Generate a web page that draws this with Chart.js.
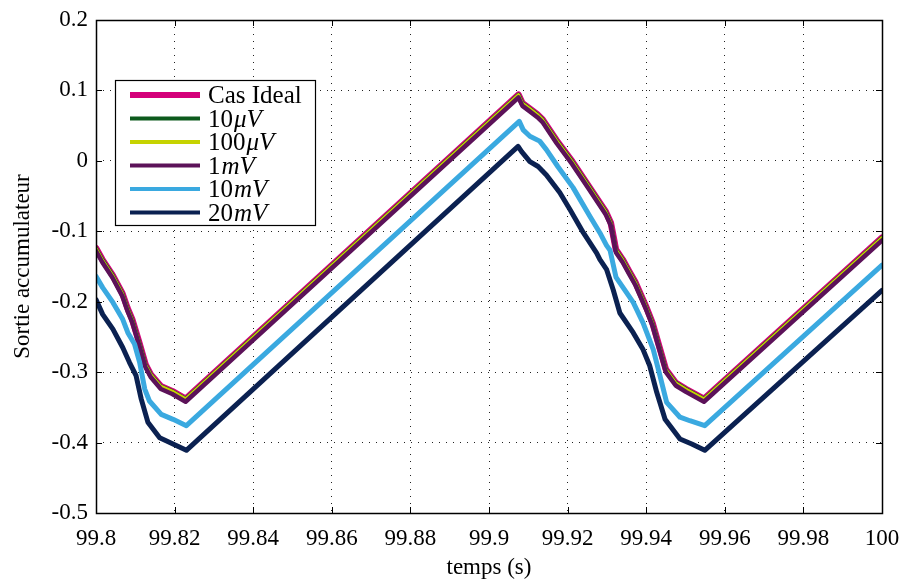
<!DOCTYPE html>
<html>
<head>
<meta charset="utf-8">
<script src="https://cdn.jsdelivr.net/npm/chart.js@4.4.0/dist/chart.umd.min.js"></script>
<style>
  html, body { margin: 0; padding: 0; background: #fff; }
  #wrap { width: 900px; height: 581px; }
</style>
</head>
<body>
<div id="wrap"><canvas id="chart"></canvas></div>
<script>
// ticks
const xTicks = [99.8, 99.82, 99.84, 99.86, 99.88, 99.9, 99.92, 99.94, 99.96, 99.98, 100];
const xTickLabels = ['99.8', '99.82', '99.84', '99.86', '99.88', '99.9', '99.92', '99.94', '99.96', '99.98', '100'];
const yTicks = [-0.5, -0.4, -0.3, -0.2, -0.1, 0, 0.1, 0.2];
const yTickLabels = ['-0.5', '-0.4', '-0.3', '-0.2', '-0.1', '0', '0.1', '0.2'];

// upper group (Cas Ideal, 10uV, 100uV, 1mV) share the same time samples
const tempsHaut = [99.8, 99.8016, 99.8042, 99.8067, 99.808, 99.8092, 99.8109, 99.8126, 99.8139, 99.8165, 99.8194, 99.8228,
  99.9075, 99.9085, 99.9102, 99.9123, 99.9136, 99.9172, 99.9212, 99.9254, 99.9297, 99.931, 99.9323, 99.934, 99.9356,
  99.9373, 99.9399, 99.9416, 99.9433, 99.945, 99.9475, 99.9501, 99.9547, 100];
const casIdeal = [-0.124, -0.140, -0.162, -0.188, -0.209, -0.225, -0.256, -0.289, -0.303, -0.320, -0.327, -0.338,
  0.094, 0.082, 0.075, 0.066, 0.059, 0.029, -0.001, -0.036, -0.072, -0.088, -0.126, -0.140, -0.156,
  -0.173, -0.206, -0.230, -0.263, -0.296, -0.315, -0.324, -0.338, -0.109];
const bruit10uV = [-0.124, -0.140, -0.162, -0.188, -0.209, -0.225, -0.256, -0.289, -0.303, -0.320, -0.327, -0.338,
  0.094, 0.082, 0.075, 0.066, 0.059, 0.029, -0.001, -0.036, -0.072, -0.088, -0.126, -0.140, -0.156,
  -0.173, -0.206, -0.230, -0.263, -0.296, -0.315, -0.324, -0.338, -0.109];
const bruit100uV = [-0.124, -0.140, -0.162, -0.188, -0.209, -0.225, -0.256, -0.289, -0.303, -0.320, -0.327, -0.338,
  0.094, 0.082, 0.075, 0.066, 0.059, 0.029, -0.001, -0.036, -0.072, -0.088, -0.126, -0.140, -0.156,
  -0.173, -0.206, -0.230, -0.263, -0.296, -0.315, -0.324, -0.338, -0.109];
const bruit1mV = [-0.128, -0.144, -0.166, -0.192, -0.213, -0.229, -0.260, -0.293, -0.307, -0.324, -0.331, -0.342,
  0.090, 0.078, 0.071, 0.062, 0.055, 0.025, -0.005, -0.040, -0.076, -0.092, -0.130, -0.144, -0.160,
  -0.177, -0.210, -0.234, -0.267, -0.300, -0.319, -0.328, -0.342, -0.113];

const temps10mV = [99.8, 99.8017, 99.8043, 99.8068, 99.8081, 99.8098, 99.8111, 99.8124, 99.8136, 99.8166, 99.8196, 99.823,
  99.9077, 99.9087, 99.9104, 99.9129, 99.9146, 99.9175, 99.9214, 99.9257, 99.9282, 99.9299, 99.9308, 99.9323,
  99.9367, 99.9392, 99.9418, 99.9435, 99.9452, 99.9486, 99.9511, 99.9549, 100];
const bruit10mV = [-0.164, -0.180, -0.201, -0.225, -0.244, -0.260, -0.286, -0.324, -0.341, -0.360, -0.367, -0.376,
  0.056, 0.044, 0.035, 0.028, 0.016, -0.008, -0.038, -0.079, -0.102, -0.120, -0.127, -0.165,
  -0.201, -0.230, -0.268, -0.305, -0.343, -0.364, -0.369, -0.376, -0.148];

const temps20mV = [99.8, 99.8017, 99.8043, 99.8068, 99.8085, 99.8102, 99.8115, 99.8132, 99.8162, 99.8196, 99.823,
  99.9074, 99.9083, 99.9104, 99.9125, 99.9146, 99.918, 99.9206, 99.924, 99.9274, 99.9282, 99.9299, 99.9316, 99.9333,
  99.9367, 99.9392, 99.9409, 99.9427, 99.9448, 99.9486, 99.9516, 99.9549, 100];
const bruit20mV = [-0.197, -0.218, -0.239, -0.265, -0.286, -0.305, -0.338, -0.371, -0.393, -0.402, -0.411,
  0.0205, 0.013, -0.001, -0.008, -0.020, -0.045, -0.069, -0.102, -0.131, -0.140, -0.154, -0.183, -0.216,
  -0.244, -0.268, -0.291, -0.329, -0.367, -0.395, -0.402, -0.411, -0.184];

const serif = '"Liberation Serif", "DejaVu Serif", serif';

function pts(t, v) {
  return t.map((x, i) => ({ x: x, y: v[i] }));
}

function serie(label, t, v, color, width) {
  return {
    label: label,
    data: pts(t, v),
    borderColor: color,
    backgroundColor: color,
    borderWidth: width,
    pointRadius: 0,
    tension: 0,
    borderJoinStyle: 'round',
    borderCapStyle: 'round'
  };
}

// Chart.js draws the first dataset on top, so the list goes from top layer to bottom layer
const datasets = [
  serie('20mV', temps20mV, bruit20mV, '#0b2151', 5),
  serie('10mV', temps10mV, bruit10mV, '#3aa9e0', 5),
  serie('1mV', tempsHaut, bruit1mV, '#5c1259', 4.5),
  serie('100μV', tempsHaut, bruit100uV, '#c6d300', 3),
  serie('10μV', tempsHaut, bruit10uV, '#0d5a1d', 4),
  serie('Cas Ideal', tempsHaut, casIdeal, '#d4007a', 6.5)
];

// frame, inward ticks and legend box
const decorPlugin = {
  id: 'decor',
  afterDatasetsDraw(chart) {
    const { ctx, chartArea: a, scales: { x, y } } = chart;
    ctx.save();
    ctx.strokeStyle = '#000';
    ctx.lineWidth = 1;
    ctx.beginPath();
    xTicks.forEach(v => {
      const px = Math.round(x.getPixelForValue(v)) + 0.5;
      ctx.moveTo(px, a.bottom); ctx.lineTo(px, a.bottom - 6);
      ctx.moveTo(px, a.top); ctx.lineTo(px, a.top + 6);
    });
    yTicks.forEach(v => {
      const py = Math.round(y.getPixelForValue(v)) + 0.5;
      ctx.moveTo(a.left, py); ctx.lineTo(a.left + 6, py);
      ctx.moveTo(a.right, py); ctx.lineTo(a.right - 6, py);
    });
    ctx.stroke();
    ctx.lineWidth = 1.5;
    ctx.strokeRect(Math.round(a.left) + 0.5, Math.round(a.top) + 0.5,
      Math.round(a.right - a.left), Math.round(a.bottom - a.top));

    // legend
    const lx = 115.5, ly = 80.5, lw = 200, lh = 145;
    ctx.fillStyle = '#fff';
    ctx.fillRect(lx, ly, lw, lh);
    ctx.lineWidth = 1.2;
    ctx.strokeRect(lx, ly, lw, lh);
    const items = chart.data.datasets.slice().reverse();
    items.forEach((ds, i) => {
      const cy = 95 + i * 23.5;
      ctx.strokeStyle = ds.borderColor;
      ctx.lineWidth = ds.label === 'Cas Ideal' ? 6 : 4;
      ctx.beginPath();
      ctx.moveTo(130, cy); ctx.lineTo(200, cy);
      ctx.stroke();
      ctx.fillStyle = '#000';
      ctx.textBaseline = 'alphabetic';
      ctx.textAlign = 'left';
      const base = cy + 8;
      const m = ds.label.match(/^(\d+)(.*)$/);
      if (m) {
        ctx.font = '25px ' + serif;
        ctx.fillText(m[1], 208, base);
        const w = ctx.measureText(m[1]).width;
        ctx.font = 'italic 25px ' + serif;
        ctx.fillText(m[2], 208 + w + 1, base);
      } else {
        ctx.font = '25px ' + serif;
        ctx.fillText(ds.label, 208, base);
      }
    });
    ctx.restore();
  }
};

new Chart(document.getElementById('chart'), {
  type: 'line',
  data: { datasets: datasets },
  options: {
    responsive: true,
    maintainAspectRatio: false,
    animation: false,
    layout: { padding: { left: 0, right: 18, top: 20, bottom: 0 } },
    plugins: {
      legend: { display: false },
      tooltip: { enabled: false }
    },
    scales: {
      x: {
        type: 'linear',
        min: 99.8,
        max: 100,
        afterBuildTicks: s => { s.ticks = xTicks.map(v => ({ value: v })); },
        afterFit: s => { s.height = 68; s.paddingLeft = 0; s.paddingRight = 0; },
        ticks: {
          autoSkip: false,
          maxRotation: 0,
          padding: 12,
          color: '#000',
          font: { family: serif, size: 23 },
          callback: (v) => xTickLabels[xTicks.findIndex(t => Math.abs(t - v) < 1e-6)]
        },
        grid: { color: '#222', lineWidth: 1, drawTicks: false },
        border: { display: false, dash: [1, 6] },
        title: {
          display: true,
          text: 'temps (s)',
          color: '#000',
          font: { family: serif, size: 23 },
          padding: { top: 0, bottom: -1 }
        }
      },
      y: {
        type: 'linear',
        min: -0.5,
        max: 0.2,
        afterBuildTicks: s => { s.ticks = yTicks.map(v => ({ value: v })); },
        afterFit: s => { s.width = 96; s.paddingTop = 0; s.paddingBottom = 0; },
        ticks: {
          padding: 8,
          color: '#000',
          font: { family: serif, size: 23 },
          callback: (v) => yTickLabels[yTicks.findIndex(t => Math.abs(t - v) < 1e-6)]
        },
        grid: { color: '#222', lineWidth: 1, drawTicks: false },
        border: { display: false, dash: [1, 6] },
        title: {
          display: true,
          text: 'Sortie accumulateur',
          color: '#000',
          font: { family: serif, size: 23 },
          padding: { top: 9, bottom: 0 }
        }
      }
    }
  },
  plugins: [decorPlugin]
});
</script>
</body>
</html>
